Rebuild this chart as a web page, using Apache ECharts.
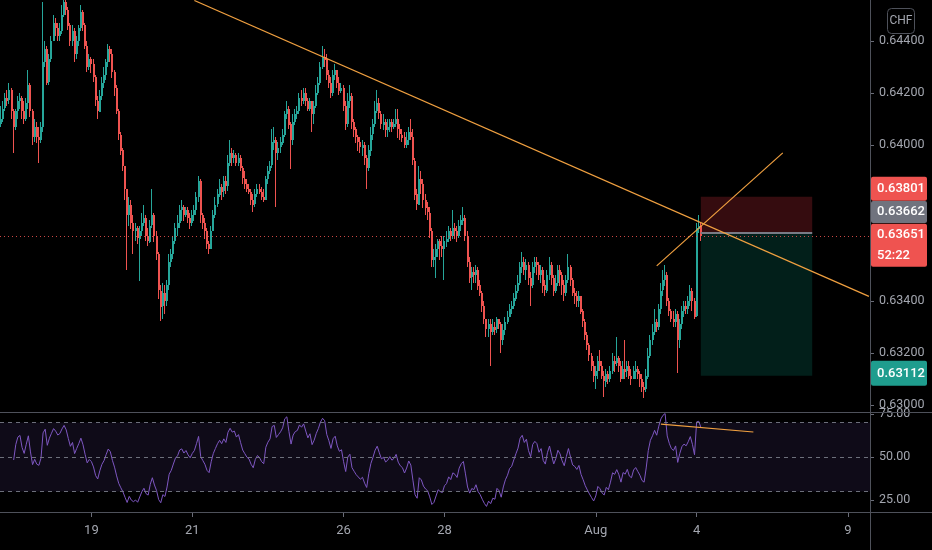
<!DOCTYPE html>
<html>
<head>
<meta charset="utf-8">
<script src="https://cdn.jsdelivr.net/npm/echarts@6/dist/echarts.min.js"></script>
<style>
html, body { margin: 0; padding: 0; background: #000; }
#chart { width: 932px; height: 550px; }
</style>
</head>
<body>
<div id="chart"></div>
<script>
// hourly candles, open of each bar = previous close
const firstOpen = 0.6408;
const closes = [
0.6410,0.6414,0.6418,0.6417,0.6421,0.6413,0.6407,0.6413,0.6417,0.6418,
0.6413,0.6410,0.6416,0.6423,0.6413,0.6403,0.6407,0.6403,0.6402,0.6407,
0.6432,0.6437,0.6424,0.6433,0.6440,0.6447,0.6445,0.6442,0.6444,0.6450,
0.6455,0.6452,0.6446,0.6440,0.6444,0.6435,0.6440,0.6445,0.6451,0.6446,
0.6438,0.6430,0.6433,0.6431,0.6426,0.6417,0.6413,0.6419,0.6424,0.6427,
0.6432,0.6437,0.6435,0.6428,0.6422,0.6413,0.6404,0.6398,0.6392,0.6383,
0.6373,0.6377,0.6370,0.6367,0.6368,0.6364,0.6367,0.6370,0.6372,0.6365,
0.6363,0.6369,0.6373,0.6365,0.6358,0.6344,0.6338,0.6343,0.6340,0.6346,
0.6355,0.6358,0.6363,0.6368,0.6370,0.6375,0.6376,0.6373,0.6375,0.6372,
0.6370,0.6373,0.6375,0.6380,0.6386,0.6373,0.6370,0.6367,0.6362,0.6360,
0.6367,0.6373,0.6377,0.6381,0.6384,0.6382,0.6386,0.6384,0.6393,0.6397,
0.6395,0.6396,0.6393,0.6395,0.6391,0.6387,0.6385,0.6383,0.6382,0.6379,
0.6377,0.6381,0.6383,0.6382,0.6380,0.6379,0.6387,0.6390,0.6392,0.6401,
0.6402,0.6397,0.6399,0.6401,0.6404,0.6412,0.6414,0.6408,0.6402,0.6409,
0.6412,0.6413,0.6418,0.6417,0.6420,0.6417,0.6414,0.6417,0.6412,0.6415,
0.6420,0.6424,0.6430,0.6434,0.6433,0.6427,0.6424,0.6420,0.6427,0.6429,
0.6424,0.6421,0.6422,0.6415,0.6408,0.6417,0.6419,0.6409,0.6406,0.6403,
0.6401,0.6399,0.6400,0.6395,0.6391,0.6398,0.6404,0.6408,0.6413,0.6416,
0.6412,0.6408,0.6409,0.6406,0.6407,0.6409,0.6407,0.6408,0.6410,0.6406,
0.6404,0.6403,0.6400,0.6402,0.6405,0.6403,0.6394,0.6381,0.6377,0.6387,
0.6385,0.6379,0.6376,0.6374,0.6367,0.6356,0.6357,0.6360,0.6363,0.6361,
0.6360,0.6363,0.6364,0.6367,0.6365,0.6368,0.6367,0.6365,0.6369,0.6371,
0.6372,0.6365,0.6355,0.6349,0.6351,0.6350,0.6352,0.6346,0.6343,0.6338,
0.6333,0.6329,0.6331,0.6328,0.6330,0.6329,0.6333,0.6331,0.6325,0.6329,
0.6332,0.6334,0.6337,0.6338,0.6341,0.6344,0.6347,0.6353,0.6355,0.6352,
0.6354,0.6349,0.6346,0.6353,0.6355,0.6354,0.6350,0.6352,0.6346,0.6344,
0.6350,0.6354,0.6349,0.6344,0.6347,0.6352,0.6350,0.6346,0.6343,0.6348,
0.6353,0.6348,0.6343,0.6342,0.6340,0.6342,0.6336,0.6332,0.6327,0.6323,
0.6319,0.6315,0.6311,0.6313,0.6317,0.6315,0.6311,0.6309,0.6312,0.6310,
0.6313,0.6317,0.6316,0.6318,0.6315,0.6310,0.6314,0.6313,0.6315,0.6311,
0.6310,0.6313,0.6314,0.6312,0.6310,0.6307,0.6306,0.6311,0.6319,0.6325,
0.6328,0.6332,0.6330,0.6337,0.6344,0.6348,0.6350,0.6340,0.6336,0.6333,
0.6332,0.6335,0.6325,0.6331,0.6336,0.6338,0.6337,0.6340,0.6344,0.6340,
0.6334,0.6368,0.6369,0.63651
];
const highs = [
0.6415,0.6417,0.6420,0.6421,0.6424,0.6422,0.6414,0.6414,0.6419,0.6420,
0.6419,0.6417,0.6418,0.6429,0.6424,0.6414,0.6410,0.6409,0.6407,0.6409,
0.6455,0.6440,0.6438,0.6435,0.6442,0.6450,0.6449,0.6447,0.6447,0.6454,
0.6456,0.6456,0.6453,0.6447,0.6446,0.6445,0.6442,0.6446,0.6454,0.6452,
0.6447,0.6440,0.6435,0.6434,0.6433,0.6427,0.6419,0.6421,0.6426,0.6430,
0.6433,0.6439,0.6438,0.6437,0.6429,0.6423,0.6414,0.6405,0.6399,0.6392,
0.6383,0.6380,0.6379,0.6373,0.6370,0.6369,0.6369,0.6374,0.6377,0.6373,
0.6368,0.6371,0.6383,0.6374,0.6367,0.6359,0.6346,0.6347,0.6346,0.6348,
0.6358,0.6360,0.6365,0.6370,0.6373,0.6377,0.6379,0.6377,0.6376,0.6376,
0.6374,0.6375,0.6377,0.6382,0.6388,0.6387,0.6374,0.6372,0.6368,0.6363,
0.6369,0.6375,0.6380,0.6383,0.6387,0.6385,0.6388,0.6388,0.6396,0.6402,
0.6399,0.6398,0.6397,0.6397,0.6396,0.6392,0.6390,0.6387,0.6385,0.6383,
0.6381,0.6383,0.6385,0.6385,0.6384,0.6383,0.6388,0.6392,0.6394,0.6406,
0.6407,0.6403,0.6401,0.6403,0.6406,0.6413,0.6417,0.6415,0.6409,0.6412,
0.6414,0.6415,0.6420,0.6421,0.6422,0.6422,0.6418,0.6418,0.6417,0.6417,
0.6423,0.6426,0.6432,0.6438,0.6437,0.6435,0.6429,0.6426,0.6429,0.6431,
0.6429,0.6426,0.6424,0.6423,0.6417,0.6420,0.6423,0.6420,0.6410,0.6407,
0.6404,0.6403,0.6402,0.6401,0.6396,0.6400,0.6407,0.6410,0.6417,0.6421,
0.6418,0.6413,0.6412,0.6410,0.6410,0.6410,0.6410,0.6410,0.6414,0.6414,
0.6408,0.6406,0.6405,0.6405,0.6407,0.6410,0.6406,0.6395,0.6383,0.6392,
0.6390,0.6387,0.6381,0.6378,0.6376,0.6368,0.6360,0.6362,0.6364,0.6364,
0.6365,0.6365,0.6367,0.6369,0.6368,0.6375,0.6370,0.6369,0.6371,0.6373,
0.6376,0.6373,0.6367,0.6357,0.6353,0.6353,0.6354,0.6353,0.6348,0.6344,
0.6340,0.6333,0.6333,0.6333,0.6333,0.6332,0.6334,0.6333,0.6332,0.6331,
0.6334,0.6336,0.6339,0.6340,0.6343,0.6346,0.6350,0.6355,0.6359,0.6357,
0.6356,0.6355,0.6351,0.6355,0.6357,0.6357,0.6355,0.6354,0.6353,0.6348,
0.6352,0.6357,0.6355,0.6350,0.6350,0.6354,0.6354,0.6351,0.6348,0.6350,
0.6358,0.6354,0.6349,0.6345,0.6344,0.6344,0.6342,0.6337,0.6333,0.6328,
0.6324,0.6320,0.6317,0.6315,0.6319,0.6321,0.6317,0.6313,0.6314,0.6313,
0.6315,0.6320,0.6319,0.6326,0.6319,0.6317,0.6317,0.6325,0.6317,0.6317,
0.6314,0.6315,0.6317,0.6315,0.6313,0.6312,0.6309,0.6314,0.6322,0.6327,
0.6331,0.6337,0.6333,0.6339,0.6347,0.6352,0.6354,0.6351,0.6341,0.6337,
0.6336,0.6337,0.6336,0.6333,0.6338,0.6340,0.6340,0.6342,0.6346,0.6345,
0.6341,0.6370,0.6373,0.6370
];
const lows = [
0.6407,0.6409,0.6413,0.6415,0.6416,0.6410,0.6397,0.6406,0.6410,0.6414,
0.6410,0.6408,0.6409,0.6414,0.6411,0.6400,0.6401,0.6401,0.6393,0.6401,
0.6405,0.6430,0.6423,0.6423,0.6432,0.6440,0.6442,0.6440,0.6440,0.6443,
0.6449,0.6450,0.6444,0.6438,0.6438,0.6432,0.6433,0.6438,0.6444,0.6444,
0.6437,0.6428,0.6429,0.6428,0.6424,0.6415,0.6410,0.6413,0.6417,0.6422,
0.6425,0.6430,0.6432,0.6426,0.6419,0.6412,0.6402,0.6396,0.6390,0.6379,
0.6352,0.6369,0.6368,0.6358,0.6363,0.6362,0.6348,0.6365,0.6369,0.6363,
0.6361,0.6362,0.6368,0.6363,0.6356,0.6341,0.6332,0.6333,0.6335,0.6338,
0.6344,0.6353,0.6356,0.6362,0.6365,0.6368,0.6371,0.6371,0.6372,0.6370,
0.6368,0.6369,0.6371,0.6373,0.6378,0.6370,0.6368,0.6364,0.6360,0.6358,
0.6360,0.6367,0.6372,0.6376,0.6380,0.6379,0.6380,0.6381,0.6382,0.6392,
0.6392,0.6393,0.6392,0.6392,0.6390,0.6385,0.6383,0.6382,0.6381,0.6377,
0.6374,0.6376,0.6380,0.6381,0.6379,0.6378,0.6379,0.6385,0.6389,0.6391,
0.6398,0.6376,0.6394,0.6397,0.6400,0.6403,0.6410,0.6406,0.6391,0.6400,
0.6408,0.6410,0.6412,0.6415,0.6416,0.6415,0.6413,0.6413,0.6405,0.6408,
0.6414,0.6419,0.6423,0.6429,0.6430,0.6425,0.6422,0.6418,0.6419,0.6425,
0.6422,0.6419,0.6420,0.6413,0.6406,0.6407,0.6414,0.6406,0.6403,0.6401,
0.6398,0.6397,0.6396,0.6392,0.6383,0.6390,0.6396,0.6402,0.6407,0.6412,
0.6410,0.6406,0.6406,0.6403,0.6403,0.6405,0.6405,0.6406,0.6407,0.6403,
0.6402,0.6401,0.6399,0.6399,0.6400,0.6402,0.6392,0.6379,0.6375,0.6377,
0.6381,0.6376,0.6373,0.6371,0.6364,0.6353,0.6353,0.6349,0.6357,0.6356,
0.6357,0.6348,0.6361,0.6363,0.6363,0.6364,0.6364,0.6363,0.6364,0.6367,
0.6369,0.6363,0.6353,0.6347,0.6344,0.6347,0.6347,0.6344,0.6342,0.6336,
0.6331,0.6326,0.6326,0.6315,0.6327,0.6327,0.6328,0.6329,0.6320,0.6323,
0.6327,0.6331,0.6334,0.6335,0.6337,0.6340,0.6343,0.6346,0.6351,0.6350,
0.6348,0.6346,0.6338,0.6345,0.6351,0.6350,0.6348,0.6347,0.6343,0.6342,
0.6343,0.6348,0.6346,0.6342,0.6343,0.6346,0.6346,0.6342,0.6340,0.6342,
0.6347,0.6346,0.6342,0.6339,0.6338,0.6338,0.6335,0.6330,0.6325,0.6321,
0.6317,0.6313,0.6309,0.6306,0.6310,0.6313,0.6310,0.6303,0.6307,0.6308,
0.6309,0.6312,0.6313,0.6315,0.6313,0.6309,0.6310,0.6310,0.6311,0.6310,
0.6308,0.6310,0.6310,0.6310,0.6307,0.6305,0.6303,0.6305,0.6310,0.6318,
0.6323,0.6327,0.6328,0.6329,0.6335,0.6342,0.6346,0.6338,0.6334,0.6332,
0.6330,0.6330,0.6312,0.6322,0.6329,0.6334,0.6335,0.6335,0.6338,0.6336,
0.6333,0.6334,0.6366,0.6363
];

const SLOT_COUNT = 414;          // bars + empty space to the right
const tickIdx = [43, 91, 163, 211, 283, 331, 403];
const tickText = ['19', '21', '26', '28', 'Aug', '4', '9'];
const priceTicks = [0.630, 0.632, 0.634, 0.636, 0.638, 0.640, 0.642, 0.644];
const priceRange = [0.62973, 0.64558];
const rsiTicks = [25, 50, 75];
const rsiRange = [18.1, 76.1];
const rsiLevels = [70, 50, 30];
const RSI_LEN = 14;
const RSI_START = 6;

// drawings (bar index, price)
const trendDown = [[92, 0.64556], [413, 0.63418]];
const trendUp = [[312, 0.63535], [372, 0.63970]];
const rsiTrend = [[314, 69.1], [358, 64.5]];
const position = { from: 333, to: 386, stop: 0.63801, entry: 0.63662, target: 0.63112 };
const lastPrice = 0.63651;
const priceTags = [
    { value: 0.63801, lines: ['0.63801'], color: '#ef5350', shift: -20, h: 24 },
    { value: 0.63662, lines: ['0.63662'], color: '#70737e', shift: -32, h: 22 },
    { value: 0.63651, lines: ['0.63651', '52:22'], color: '#ef5350', shift: -12, h: 43 },
    { value: 0.63112, lines: ['0.63112'], color: '#1f9d8e', shift: -15, h: 25 }
];

const slots = [];
for (let i = 0; i < SLOT_COUNT; i++) slots.push(i);

// [index, open, close, low, high]
const candles = closes.map((c, i) => [i, i === 0 ? firstOpen : closes[i - 1], c, lows[i], highs[i]]);

function calcRsi() {
    let prev = firstOpen, ag = 0, al = 0;
    const out = [];
    for (let i = 0; i < closes.length; i++) {
        const d = closes[i] - prev;
        prev = closes[i];
        const k = Math.min(i + 1, RSI_LEN);
        ag = (ag * (k - 1) + Math.max(d, 0)) / k;
        al = (al * (k - 1) + Math.max(-d, 0)) / k;
        if (i >= RSI_START) out.push([i, al === 0 ? 100 : 100 - 100 / (1 + ag / al)]);
    }
    return out;
}

const AXIS_TXT = '#a3a6af';
const LINE_GRAY = '#4e515a';
const ORANGE = '#f0a040';
const UP = '#26a69a';
const DOWN = '#ef5350';

// pixel-snapped candle so thin bars keep their colour
function renderCandle(params, api) {
    const i = api.value(0), o = api.value(1), c = api.value(2);
    const x = Math.round(api.coord([i, o])[0]);
    const yo = api.coord([i, o])[1], yc = api.coord([i, c])[1];
    const yl = api.coord([i, api.value(3)])[1], yh = api.coord([i, api.value(4)])[1];
    const color = c >= o ? UP : DOWN;
    const top = Math.round(Math.min(yo, yc));
    const h = Math.max(1, Math.round(Math.abs(yo - yc)));
    return {
        type: 'group',
        children: [
            { type: 'rect', shape: { x: x - 1, y: Math.round(yh), width: 1, height: Math.max(1, Math.round(yl - yh)) }, style: { fill: color } },
            { type: 'rect', shape: { x: x - 1, y: top, width: 2, height: h }, style: { fill: color } }
        ]
    };
}

const chart = echarts.init(document.getElementById('chart'));

const option = {
    backgroundColor: '#000000',
    animation: false,
    grid: [
        { left: 0, right: 62, top: 0, height: 412, outerBoundsMode: 'none' },
        { left: 0, right: 62, top: 412, height: 100, outerBoundsMode: 'none' }
    ],
    xAxis: [
        {
            type: 'category', gridIndex: 0, data: slots, boundaryGap: true,
            axisLine: { show: false }, axisTick: { show: false }, axisLabel: { show: false }, splitLine: { show: false }
        },
        {
            type: 'category', gridIndex: 1, data: slots, boundaryGap: true,
            axisLine: { show: false },
            axisTick: {
                show: true, alignWithLabel: true, length: 5,
                interval: (i) => tickIdx.indexOf(i) >= 0,
                lineStyle: { color: '#6a6d78' }
            },
            axisLabel: {
                show: true, margin: 12,
                interval: (i) => tickIdx.indexOf(i) >= 0,
                formatter: (v, i) => tickText[tickIdx.indexOf(i)],
                color: AXIS_TXT, fontSize: 13, fontFamily: 'Roboto'
            },
            splitLine: { show: false }
        }
    ],
    yAxis: [
        {
            type: 'value', gridIndex: 0, position: 'right',
            min: priceRange[0], max: priceRange[1],
            axisLine: { show: false },
            axisTick: { show: true, length: 4, customValues: priceTicks, lineStyle: { color: '#6a6d78' } },
            axisLabel: {
                customValues: priceTicks, margin: 9,
                formatter: (v) => v.toFixed(5),
                color: AXIS_TXT, fontSize: 12.5, fontFamily: 'Roboto'
            },
            splitLine: { show: false }
        },
        {
            type: 'value', gridIndex: 1, position: 'right',
            min: rsiRange[0], max: rsiRange[1],
            axisLine: { show: false },
            axisTick: { show: true, length: 4, customValues: rsiTicks, lineStyle: { color: '#6a6d78' } },
            axisLabel: {
                customValues: rsiTicks, margin: 9,
                formatter: (v) => v.toFixed(2),
                color: AXIS_TXT, fontSize: 12.5, fontFamily: 'Roboto'
            },
            splitLine: { show: false }
        }
    ],
    series: [
        {
            name: 'price', type: 'custom', xAxisIndex: 0, yAxisIndex: 0,
            data: candles, renderItem: renderCandle, clip: true,
            encode: { x: 0, y: [1, 2, 3, 4] },
            markArea: {
                silent: true,
                data: [
                    [{ xAxis: position.from, yAxis: position.stop, itemStyle: { color: 'rgba(242,54,69,0.22)' } },
                     { xAxis: position.to, yAxis: position.entry }],
                    [{ xAxis: position.from, yAxis: position.entry, itemStyle: { color: 'rgba(8,153,129,0.2)' } },
                     { xAxis: position.to, yAxis: position.target }]
                ]
            },
            markLine: {
                silent: true, symbol: 'none', label: { show: false }, precision: 5,
                data: [
                    [{ coord: [position.from, position.entry], lineStyle: { color: '#787b86', type: 'solid', width: 2 } },
                     { coord: [position.to, position.entry] }]
                ]
            }
        },
        {
            name: 'trend1', type: 'line', xAxisIndex: 0, yAxisIndex: 0, data: trendDown,
            symbol: 'none', lineStyle: { color: ORANGE, width: 1.2 }, silent: true, z: 5,
            markLine: {
                silent: true, symbol: 'none', label: { show: false }, precision: 5,
                lineStyle: { color: DOWN, type: [1, 3], width: 1, opacity: 0.85 },
                data: [{ yAxis: lastPrice }]
            }
        },
        {
            name: 'trend2', type: 'line', xAxisIndex: 0, yAxisIndex: 0, data: trendUp,
            symbol: 'none', lineStyle: { color: ORANGE, width: 1.2 }, silent: true, z: 5
        },
        {
            name: 'RSI', type: 'line', xAxisIndex: 1, yAxisIndex: 1, data: calcRsi(),
            symbol: 'none', lineStyle: { color: '#7e57c2', width: 1 },
            markArea: {
                silent: true,
                itemStyle: { color: 'rgba(126,87,194,0.12)' },
                data: [[{ yAxis: rsiLevels[0] }, { yAxis: rsiLevels[2] }]]
            },
            markLine: {
                silent: true, symbol: 'none', label: { show: false },
                lineStyle: { color: '#787b86', type: [4, 4], width: 1, opacity: 0.9 },
                data: rsiLevels.map(v => ({ yAxis: v }))
            }
        },
        {
            name: 'rsiTrend', type: 'line', xAxisIndex: 1, yAxisIndex: 1, data: rsiTrend,
            symbol: 'none', lineStyle: { color: ORANGE, width: 1.2 }, silent: true, z: 5
        }
    ]
};

chart.setOption(option);

function buildGraphic() {
    const g = [
        { type: 'line', shape: { x1: 0, y1: 412.5, x2: 932, y2: 412.5 }, style: { stroke: LINE_GRAY, lineWidth: 1 }, z: 50 },
        { type: 'line', shape: { x1: 0, y1: 512.5, x2: 932, y2: 512.5 }, style: { stroke: LINE_GRAY, lineWidth: 1 }, z: 50 },
        { type: 'line', shape: { x1: 870.5, y1: 0, x2: 870.5, y2: 550 }, style: { stroke: LINE_GRAY, lineWidth: 1 }, z: 50 },
        { type: 'rect', shape: { x: 887.5, y: 8.5, width: 27, height: 25, r: 4 }, style: { fill: 'none', stroke: '#4e515a', lineWidth: 1 }, z: 50 },
        { type: 'text', x: 901, y: 21, style: { text: 'CHF', fill: AXIS_TXT, font: '12px Roboto', align: 'center', verticalAlign: 'middle' }, z: 51 }
    ];
    priceTags.forEach(t => {
        const top = chart.convertToPixel({ yAxisIndex: 0 }, t.value) + t.shift;
        g.push({ type: 'rect', shape: { x: 871, y: top, width: 56, height: t.h, r: 2 }, style: { fill: t.color }, z: 60 });
        t.lines.forEach((s, k) => {
            g.push({
                type: 'text', x: 877, y: top + t.h / t.lines.length * (k + 0.5),
                style: { text: s, fill: '#ffffff', font: '500 13px Roboto', verticalAlign: 'middle' }, z: 61
            });
        });
    });
    return g;
}

chart.setOption({ graphic: buildGraphic() });
</script>
</body>
</html>
